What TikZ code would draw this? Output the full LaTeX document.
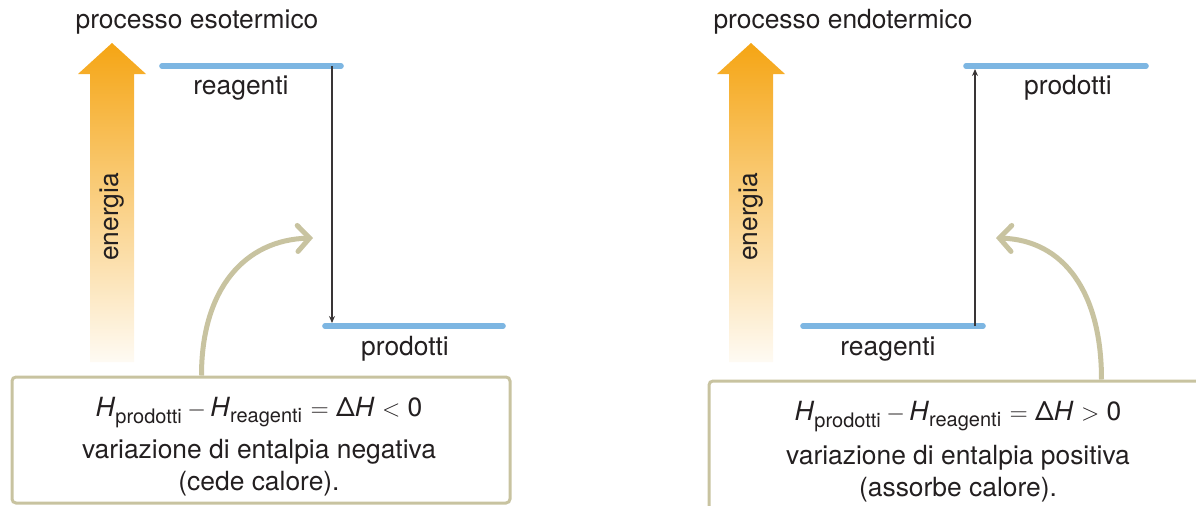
\documentclass[tikz,border=0pt]{standalone}
\usepackage{fontspec}
\setmainfont{TeX Gyre Heros}
\usetikzlibrary{arrows.meta}
\definecolor{levelblue}{RGB}{125,182,226}
\definecolor{khaki}{RGB}{200,195,160}
\definecolor{energy}{RGB}{245,165,20}
\definecolor{ink}{RGB}{35,31,32}
\newcommand{\subtxt}[1]{\textsubscript{\fontsize{10}{10}\selectfont #1}}
\tikzset{lbl/.style={font=\fontsize{13.2}{16}\selectfont,text=ink,inner sep=0pt},
 levelline/.style={draw=levelblue,line width=2.8pt,line cap=round},
 jump/.style={draw=ink!90,line width=0.65pt,-{Stealth[length=3.5pt,width=3pt]}},
 hint/.style={draw=khaki,line width=2.5pt,-{Straight Barb[length=6pt,width=13pt,line cap=round]}},
 infobox/.style={draw=khaki,line width=1.5pt,rounded corners=2pt,inner sep=0pt}}

\begin{document}
\begin{tikzpicture}[x=0.5pt,y=-0.5pt]
 \useasboundingbox (0,0) rectangle (1196,505);
 % energy arrows
 \foreach \cx in {112,751}{
  \shade[top color=energy,middle color=energy!62,bottom color=energy!5]
   (\cx-22,362) -- (\cx-22,74) -- (\cx-34,74) -- (\cx,43) -- (\cx+34,74)
   -- (\cx+22,74) -- (\cx+22,362) -- cycle;
  \node[lbl,rotate=90] at (\cx,217) {energia};
 }
 % esothermic side
 \node[lbl] (titA) at (197,22) {processo esotermico};
 \draw[levelline] (162,66) -- (341,66);
 \draw[levelline] (325,326) -- (503,326);
 \node[lbl] (reagA) at (241,88) {reagenti};
 \node[lbl] (prodA) at (405,349) {prodotti};
 \coordinate (rA) at (332,66);
 \coordinate (pA) at (332,323);
 \draw[jump] (rA) -- (pA);
 \node[infobox,minimum width=249pt,minimum height=63pt] (boxA) at (261,440) {};
 \node[lbl,align=center] (eqA) at (259,447)
  {\textit{H}\subtxt{prodotti}\,$-$\,\textit{H}\subtxt{reagenti} $=$ Δ\textit{H} $<$ 0\\[5pt]
   variazione di entalpia negativa\\(cede calore).};
 \coordinate (tipA) at (313,238);
 \draw[hint] ([xshift=95.5pt]boxA.north west) .. controls +(0,-87) and +(-68,2) .. (tipA);
 % endothermic side
 \node[lbl] (titB) at (843,22) {processo endotermico};
 \draw[levelline] (803,326) -- (983,326);
 \draw[levelline] (966,66) -- (1146,66);
 \node[lbl] (reagB) at (888,349) {reagenti};
 \node[lbl] (prodB) at (1068,88) {prodotti};
 \coordinate (rB) at (975,326);
 \coordinate (pB) at (975,69);
 \draw[jump] (rB) -- (pB);
 \node[infobox,minimum width=253pt,minimum height=74.5pt] (boxB) at (962,455.5) {};
 \node[lbl,align=center] (eqB) at (958,452)
  {\textit{H}\subtxt{prodotti}\,$-$\,\textit{H}\subtxt{reagenti} $=$ Δ\textit{H} $>$ 0\\[6pt]
   variazione di entalpia positiva\\(assorbe calore).};
 \coordinate (tipB) at (996,238);
 \draw[hint] ([xshift=197pt]boxB.north west) .. controls +(0,-87) and +(68,2) .. (tipB);
\end{tikzpicture}
\end{document}
